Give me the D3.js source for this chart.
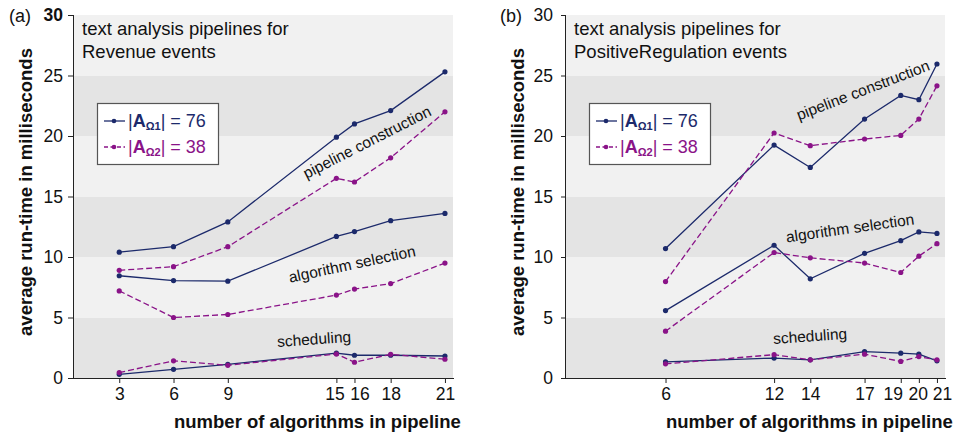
<!DOCTYPE html>
<html>
<head>
<meta charset="utf-8">
<script src="https://cdn.jsdelivr.net/npm/d3@7"></script>
<style>
  html, body { margin: 0; padding: 0; background: #fff; }
  svg { display: block; font-family: "Liberation Sans", Arial, Helvetica, sans-serif; }
</style>
</head>
<body>
<svg id="chart" width="956" height="438"></svg>
<script>
// ---------- data ----------
const yTicks = [0, 5, 10, 15, 20, 25, 30];
const bandEdges = [0, 5, 10, 15, 20, 25, 30];

// panel (a): Revenue events
const xA = [3, 6, 9, 15, 16, 18, 21];
const aPipe76  = [10.4, 10.85, 12.9, 19.9, 21.0, 22.1, 25.3];
const aPipe38  = [8.9, 9.2, 10.85, 16.5, 16.2, 18.2, 22.0];
const aSel76   = [8.45, 8.05, 8.0, 11.7, 12.1, 13.0, 13.6];
const aSel38   = [7.2, 5.0, 5.25, 6.85, 7.35, 7.8, 9.5];
const aSched76 = [0.3, 0.72, 1.13, 2.05, 1.88, 1.88, 1.82];
const aSched38 = [0.45, 1.42, 1.05, 1.98, 1.3, 1.96, 1.55];

// panel (b): PositiveRegulation events
const xB = [6, 12, 14, 17, 19, 20, 21];
const bPipe76  = [10.7, 19.25, 17.4, 21.4, 23.35, 23.0, 25.95];
const bPipe38  = [7.97, 20.25, 19.2, 19.75, 20.05, 21.4, 24.15];
const bSel76   = [5.57, 10.97, 8.2, 10.3, 11.35, 12.07, 11.95];
const bSel38   = [3.87, 10.37, 9.93, 9.5, 8.72, 10.07, 11.1];
const bSched76 = [1.33, 1.65, 1.5, 2.18, 2.05, 1.97, 1.42];
const bSched38 = [1.17, 1.93, 1.5, 1.97, 1.37, 1.77, 1.5];

const legendLabels = [{sub: "\u03A91", val: "76"}, {sub: "\u03A92", val: "38"}];

// ---------- styles ----------
const C76 = "#1c2a6b";
const C38 = "#8a1388";
const LIGHT = "#f1f1f1";
const DARK = "#e4e4e4";

const svg = d3.select("#chart");

function drawPanel(p) {
  const g = svg.append("g");
  const x = d3.scaleLinear().domain([0.5, 21.5]).range([p.x0, p.x1]);
  const y = d3.scaleLinear().domain([0, 30]).range([378, 15]);

  // bands
  for (let i = 0; i < bandEdges.length - 1; i++) {
    g.append("rect")
      .attr("x", x(0.5)).attr("width", x(21.5) - x(0.5) - 1)
      .attr("y", y(bandEdges[i + 1])).attr("height", y(bandEdges[i]) - y(bandEdges[i + 1]))
      .attr("fill", i % 2 === 0 ? DARK : LIGHT);
  }

  // y axis
  const ya = g.append("g").attr("transform", `translate(${x(0.5)},0)`)
    .call(d3.axisLeft(y).tickValues(yTicks).tickSize(p.tick).tickPadding(p.pad));
  ya.select(".domain").attr("stroke", "#222").attr("d", `M-0.5,${y(30)}V${y(0)}`);
  ya.selectAll(".tick line").attr("stroke", "#222");
  ya.selectAll(".tick text").attr("font-size", 17.5).attr("fill", "#111")
    .attr("font-family", "'Liberation Sans', Arial, sans-serif")
    .attr("font-weight", d => (d === 30 && p.bold30) ? "bold" : "normal");

  // x axis
  const xa = g.append("g").attr("transform", `translate(0,${y(0)})`)
    .call(d3.axisBottom(x).tickValues(p.xs).tickSize(5).tickPadding(5).tickFormat(d3.format("d")));
  xa.select(".domain").attr("stroke", "#222").attr("d", `M${x(0.5) - 1},0.5H${x(21.5)}`);
  xa.selectAll(".tick line").attr("stroke", "#222");
  xa.selectAll(".tick text").attr("font-size", 17.5).attr("fill", "#111")
    .attr("font-family", "'Liberation Sans', Arial, sans-serif")
    .attr("x", (d, i) => p.labelShift[i]);

  // series
  const series = [
    {v: p.pipe76, c: C76, dash: null},
    {v: p.pipe38, c: C38, dash: "6,3"},
    {v: p.sel76, c: C76, dash: null},
    {v: p.sel38, c: C38, dash: "6,3"},
    {v: p.sched76, c: C76, dash: null},
    {v: p.sched38, c: C38, dash: "6,3"}
  ];
  const line = d3.line().x(d => x(d[0])).y(d => y(d[1]));
  series.forEach(s => {
    const pts = p.xs.map((xv, i) => [xv, s.v[i]]);
    g.append("path").attr("d", line(pts)).attr("fill", "none")
      .attr("stroke", s.c).attr("stroke-width", 1.3)
      .attr("stroke-dasharray", s.dash);
    g.selectAll(null).data(pts).enter().append("circle")
      .attr("cx", d => x(d[0])).attr("cy", d => y(d[1])).attr("r", 2.6)
      .attr("fill", s.c);
  });

  // annotations
  p.notes.forEach(n => {
    g.append("text").attr("transform", `translate(${n.x},${n.y}) rotate(${n.rot})`)
      .attr("text-anchor", "middle").attr("dy", "0.35em")
      .attr("font-size", 15.5).attr("fill", "#111").text(n.t);
  });

  // title
  const tt = g.append("text").attr("font-size", 18.5).attr("fill", "#111");
  tt.append("tspan").attr("x", x(0.5) + 8).attr("y", 35).text("text analysis pipelines for");
  tt.append("tspan").attr("x", x(0.5) + 8).attr("y", 58).text(p.title2);

  // panel letter
  g.append("text").attr("x", p.letterX).attr("y", 22).attr("font-size", 18).attr("fill", "#111").text(p.letter);

  // y label
  g.append("text").attr("transform", `translate(${p.ylabX},${192}) rotate(-90)`)
    .attr("text-anchor", "middle").attr("font-size", 18.5).attr("font-weight", "bold")
    .attr("fill", "#111").text("average run-time in milliseconds");

  // x label
  g.append("text").attr("x", p.xlabX).attr("y", 428)
    .attr("font-size", 18.5).attr("font-weight", "bold").attr("fill", "#111")
    .text("number of algorithms in pipeline");

  // legend
  const lg = g.append("g").attr("transform", `translate(${x(0.5) + 23},103)`);
  lg.append("rect").attr("x", 0.5).attr("y", 0.5).attr("width", 121).attr("height", 61)
    .attr("fill", "#fff").attr("stroke", "#555").attr("stroke-width", 1.2);
  [{c: C76, dash: null}, {c: C38, dash: "4,2.5"}].forEach((s, i) => {
    const yy = 18 + i * 26;
    lg.append("line").attr("x1", 7).attr("x2", 28).attr("y1", yy).attr("y2", yy)
      .attr("stroke", s.c).attr("stroke-width", 1.3).attr("stroke-dasharray", s.dash);
    lg.append("circle").attr("cx", 17).attr("cy", yy).attr("r", 2.3).attr("fill", s.c);
    const t = lg.append("text").attr("x", 31).attr("y", yy + 6).attr("font-size", 18).attr("fill", s.c);
    t.append("tspan").text("|");
    t.append("tspan").attr("font-weight", "bold").text("A");
    t.append("tspan").attr("font-weight", "bold").attr("font-size", 11).attr("dy", 3).text(legendLabels[i].sub);
    t.append("tspan").attr("dy", -3).text("| = " + legendLabels[i].val);
  });
}

drawPanel({
  x0: 74, x1: 454, xs: xA, tick: 6, pad: 5, bold30: true,
  labelShift: [0, 0, 0, -2, 5, 0, 0],
  pipe76: aPipe76, pipe38: aPipe38, sel76: aSel76, sel38: aSel38, sched76: aSched76, sched38: aSched38,
  title2: "Revenue events", letter: "(a)", letterX: 9, ylabX: 32, xlabX: 174,
  notes: [
    {t: "pipeline construction", x: 367, y: 142, rot: -27},
    {t: "algorithm selection", x: 352, y: 264, rot: -12},
    {t: "scheduling", x: 314, y: 339, rot: -4}
  ]
});

drawPanel({
  x0: 566, x1: 946, xs: xB, tick: 5, pad: 8, bold30: false,
  labelShift: [0, 0, 0, 0, -8, -1, 5],
  pipe76: bPipe76, pipe38: bPipe38, sel76: bSel76, sel38: bSel38, sched76: bSched76, sched38: bSched38,
  title2: "PositiveRegulation events", letter: "(b)", letterX: 500, ylabX: 524, xlabX: 666,
  notes: [
    {t: "pipeline construction", x: 863, y: 90, rot: -21},
    {t: "algorithm selection", x: 850, y: 228, rot: -8},
    {t: "scheduling", x: 810, y: 336, rot: -4}
  ]
});
</script>
</body>
</html>
